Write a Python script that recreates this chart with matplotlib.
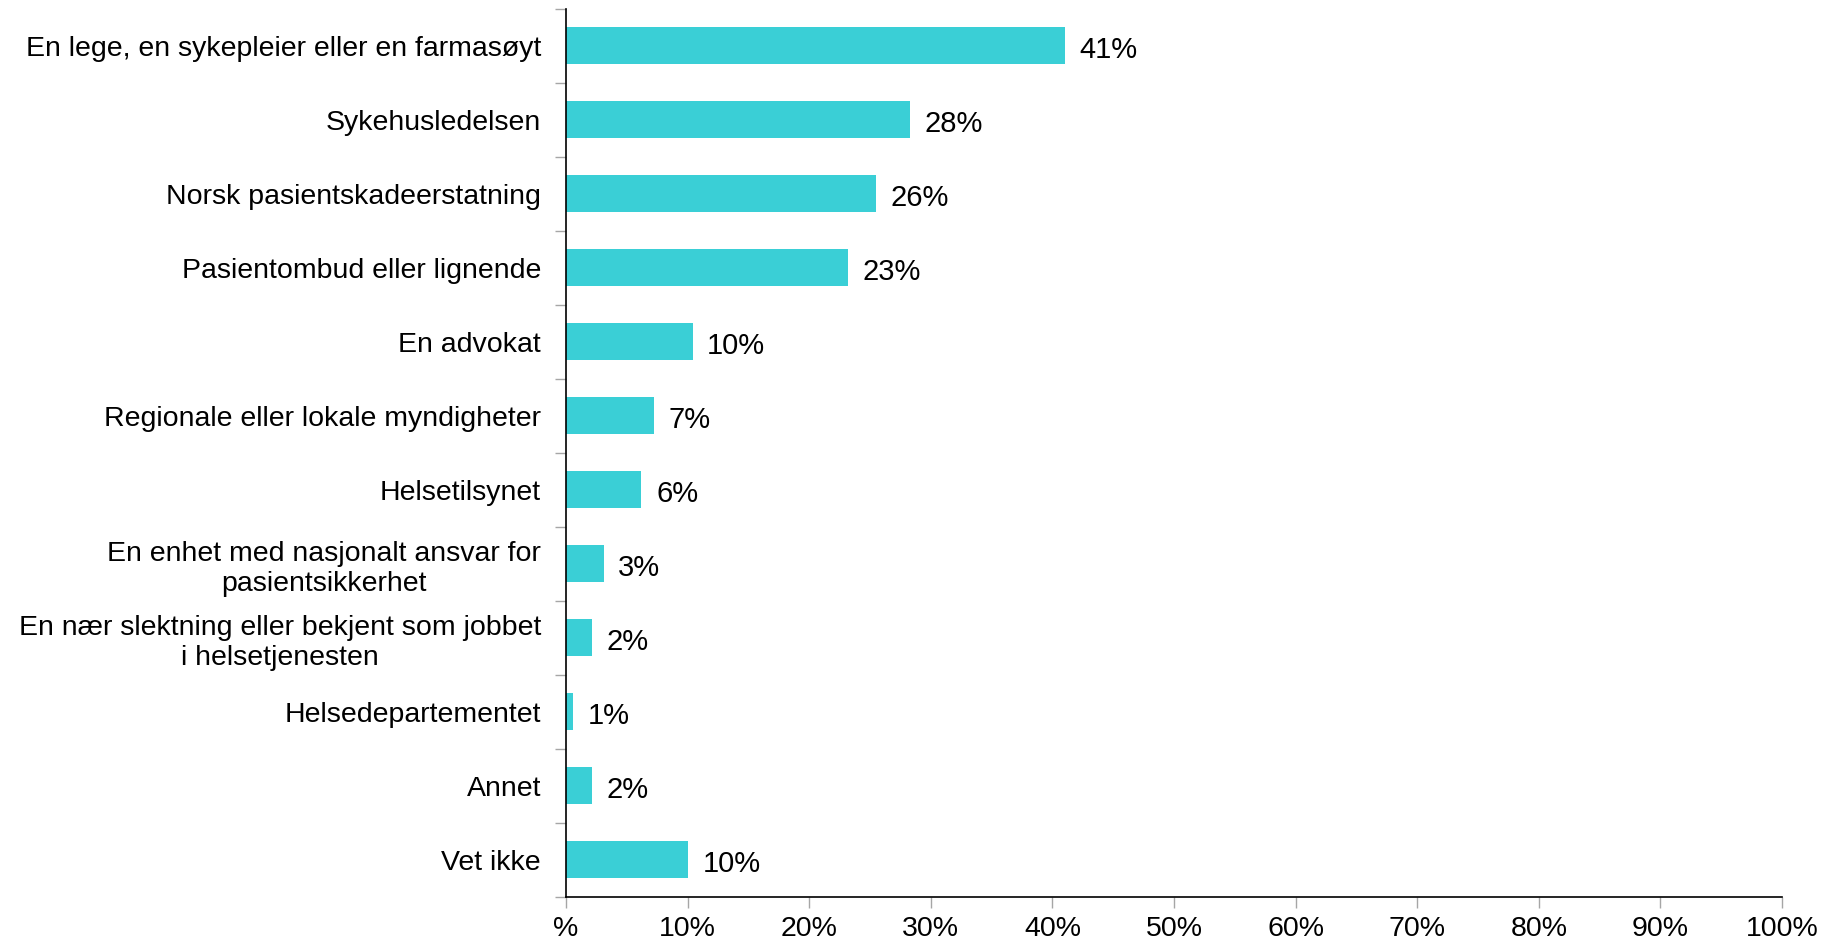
import matplotlib
matplotlib.use('Agg')
import matplotlib.pyplot as plt
import numpy as np

# data
categories = [
    "En lege, en sykepleier eller en farmasøyt",
    "Sykehusledelsen",
    "Norsk pasientskadeerstatning",
    "Pasientombud eller lignende",
    "En advokat",
    "Regionale eller lokale myndigheter",
    "Helsetilsynet",
    "En enhet med nasjonalt ansvar for\npasientsikkerhet",
    "En nær slektning eller bekjent som jobbet\ni helsetjenesten",
    "Helsedepartementet",
    "Annet",
    "Vet ikke",
]
values = [41.0, 28.3, 25.5, 23.2, 10.4, 7.2, 6.2, 3.1, 2.1, 0.6, 2.1, 10.0]
xticks = [0, 10, 20, 30, 40, 50, 60, 70, 80, 90, 100]
xticklabels = ["%"] + [f"{t}%" for t in xticks[1:]]

bar_color = "#3ACFD6"
tick_grey = "#A6A6A6"

plt.rcParams['font.family'] = ['Liberation Sans', 'DejaVu Sans']
plt.rcParams['font.size'] = 20.5

fig = plt.figure(figsize=(18.29, 9.44), dpi=100, facecolor='white')
ax = fig.add_axes([0.3095, 0.0498, 0.9743 - 0.3095, 0.9905 - 0.0498])

y = np.arange(len(categories))
ax.barh(y, values, height=0.5, color=bar_color)

for yi, v in zip(y, values):
    ax.text(v + 1.2, yi + 0.05, f"{int(v + 0.5)}%", va='center', ha='left',
            fontsize=21, color='black')

ax.set_xlim(0, 100)
ax.set_ylim(len(categories) - 0.5, -0.5)

ax.set_yticks(y)
ax.set_yticklabels(categories, multialignment='center', linespacing=1.2)
ax.set_yticks(np.arange(len(categories) + 1) - 0.5, minor=True)
ax.tick_params(axis='y', which='major', length=0, pad=18)
ax.tick_params(axis='y', which='minor', length=8, width=1, color=tick_grey)

ax.set_xticks(xticks)
ax.set_xticklabels(xticklabels, fontsize=20.5)
ax.tick_params(axis='x', which='major', length=8, width=1, color=tick_grey, pad=6)

for side in ['top', 'right']:
    ax.spines[side].set_visible(False)
for side in ['left', 'bottom']:
    ax.spines[side].set_color('black')
    ax.spines[side].set_linewidth(1.2)

fig.savefig("out.png", dpi=100, facecolor='white')
plt.close()
